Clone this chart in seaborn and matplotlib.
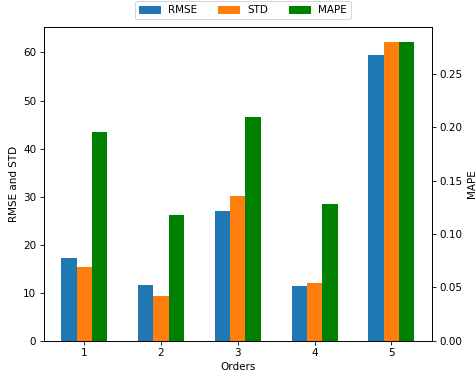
import matplotlib
matplotlib.use("Agg")
import matplotlib.pyplot as plt
from matplotlib.patches import Patch
import seaborn as sns
import numpy as np

orders = [1, 2, 3, 4, 5]
rmse = [17.2, 11.6, 27.0, 11.4, 59.4]
std = [15.3, 9.3, 30.1, 12.0, 62.2]
mape = [0.196, 0.1175, 0.210, 0.128, 0.280]
metrics = ["RMSE", "STD", "MAPE"]
colors = ["#1f77b4", "#ff7f0e", "#008000"]

fig = plt.figure(figsize=(476 / 75, 380 / 75), dpi=75)
ax = fig.add_axes([0.0914, 0.1034, 0.8162, 0.8255])
ax2 = ax.twinx()

x = np.array(orders, dtype=float)
series = [(rmse, -0.2, ax), (std, 0.0, ax), (mape, 0.2, ax2)]
for (vals, off, a), c in zip(series, colors):
    sns.barplot(x=x + off, y=vals, native_scale=True, width=0.2, color=c,
                saturation=1, errorbar=None, linewidth=0, ax=a)

for a in (ax, ax2):
    a.set_xlim(0.47, 5.53)
    a.grid(False)

ax.set_xticks(orders)
ax.set_xticklabels([str(o) for o in orders])
ax.set_ylim(0, 65.3)
ax2.set_ylim(0, 0.294)
ax.set_xlabel("Orders")
ax.set_ylabel("RMSE and STD")
ax2.set_ylabel("MAPE")

handles = [Patch(color=c) for c in colors]
fig.legend(handles, metrics, loc="upper center", ncol=3,
           bbox_to_anchor=(243 / 476, 1.0), borderaxespad=0.1)

fig.savefig("out.png", dpi=75)
